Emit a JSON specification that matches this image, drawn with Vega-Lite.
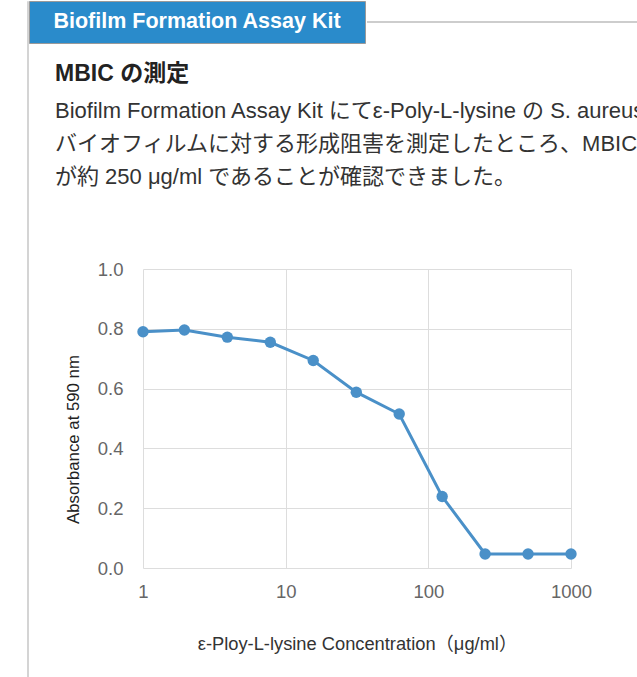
{
  "$schema": "https://vega.github.io/schema/vega-lite/v6.json",
  "padding": {"left": 26, "top": 0, "right": 0, "bottom": 0},
  "background": "white",
  "config": {
    "view": {"stroke": null},
    "font": "Liberation Sans, Noto Sans CJK JP, sans-serif"
  },
  "spacing": -3,
  "hconcat": [
    {
      "width": 1,
      "height": 677,
      "view": {"stroke": "#d4d4d4", "strokeWidth": 1},
      "data": {"values": []},
      "mark": "point"
    },
    {
      "spacing": 19,
      "vconcat": [
        {
          "spacing": 0,
          "hconcat": [
            {
              "width": 336,
              "height": 42,
              "view": {"fill": "#2A8BCB", "stroke": "#9a9a9a", "strokeWidth": 1},
              "data": {"values": [{"label": "Biofilm Formation Assay Kit"}]},
              "mark": {"type": "text", "color": "white", "fontSize": 21.5, "fontWeight": "bold", "font": "Liberation Sans"},
              "encoding": {"text": {"field": "label"}}
            },
            {
              "width": 280,
              "height": 42,
              "data": {"values": [{}]},
              "mark": {"type": "rule", "color": "#bdbdbd", "strokeWidth": 1.5},
              "encoding": {"y": {"datum": 1, "type": "quantitative", "scale": {"domain": [0, 2]}, "axis": null}}
            }
          ]
        },
        {
          "spacing": 25,
          "hconcat": [
            {
              "width": 1,
              "height": 1,
              "data": {"values": []},
              "mark": "point"
            },
            {
              "width": 428,
              "height": 299,
              "title": {
                "text": "MBIC の測定",
                "subtitle": [
                  "Biofilm Formation Assay Kit にてε-Poly-L-lysine の S. aureus",
                  "バイオフィルムに対する形成阻害を測定したところ、MBIC",
                  "が約 250 μg/ml であることが確認できました。"
                ],
                "anchor": "start",
                "frame": "group",
                "dx": -88,
                "offset": 72,
                "font": "Liberation Sans, Noto Sans CJK JP, sans-serif",
                "fontSize": 23,
                "fontWeight": "bold",
                "color": "#222222",
                "subtitleFont": "Liberation Sans, Noto Sans CJK JP, sans-serif",
                "subtitleFontSize": 22,
                "subtitleColor": "#333333",
                "subtitleLineHeight": 33,
                "subtitlePadding": 15
              },
              "data": {
                "values": [
                  {"conc": 1, "absorbance": 0.79},
                  {"conc": 1.95, "absorbance": 0.796},
                  {"conc": 3.9, "absorbance": 0.772},
                  {"conc": 7.8, "absorbance": 0.755},
                  {"conc": 15.6, "absorbance": 0.694},
                  {"conc": 31.25, "absorbance": 0.588},
                  {"conc": 62.5, "absorbance": 0.515},
                  {"conc": 125, "absorbance": 0.239},
                  {"conc": 250, "absorbance": 0.047},
                  {"conc": 500, "absorbance": 0.047},
                  {"conc": 1000, "absorbance": 0.047}
                ]
              },
              "encoding": {
                "x": {
                  "field": "conc",
                  "type": "quantitative",
                  "scale": {"type": "log", "domain": [1, 1000], "nice": false},
                  "axis": {
                    "values": [1, 10, 100, 1000],
                    "format": "d",
                    "grid": true,
                    "gridColor": "#dddddd",
                    "domain": false,
                    "ticks": false,
                    "labelFontSize": 18.5,
                    "labelColor": "#666666",
                    "labelPadding": 14,
                    "labelFlush": false,
                    "title": "ε-Ploy-L-lysine Concentration（μg/ml）",
                    "titleFontSize": 18.3,
                    "titleFontWeight": "normal",
                    "titleColor": "#333333",
                    "titleY": 67
                  }
                },
                "y": {
                  "field": "absorbance",
                  "type": "quantitative",
                  "scale": {"domain": [0, 1], "nice": false},
                  "axis": {
                    "values": [0, 0.2, 0.4, 0.6, 0.8, 1.0],
                    "format": ".1f",
                    "grid": true,
                    "gridColor": "#dddddd",
                    "domain": false,
                    "ticks": false,
                    "labelFontSize": 18.5,
                    "labelColor": "#666666",
                    "labelPadding": 20,
                    "title": "Absorbance at 590 nm",
                    "titleFontSize": 16.8,
                    "titleFontWeight": "normal",
                    "titleColor": "#222222",
                    "titleX": -61,
                    "titleY": 170
                  }
                }
              },
              "layer": [
                {"mark": {"type": "line", "color": "#4A90C8", "strokeWidth": 3}},
                {"mark": {"type": "point", "filled": true, "size": 130, "color": "#4A90C8", "opacity": 1}}
              ]
            }
          ]
        }
      ]
    }
  ]
}
